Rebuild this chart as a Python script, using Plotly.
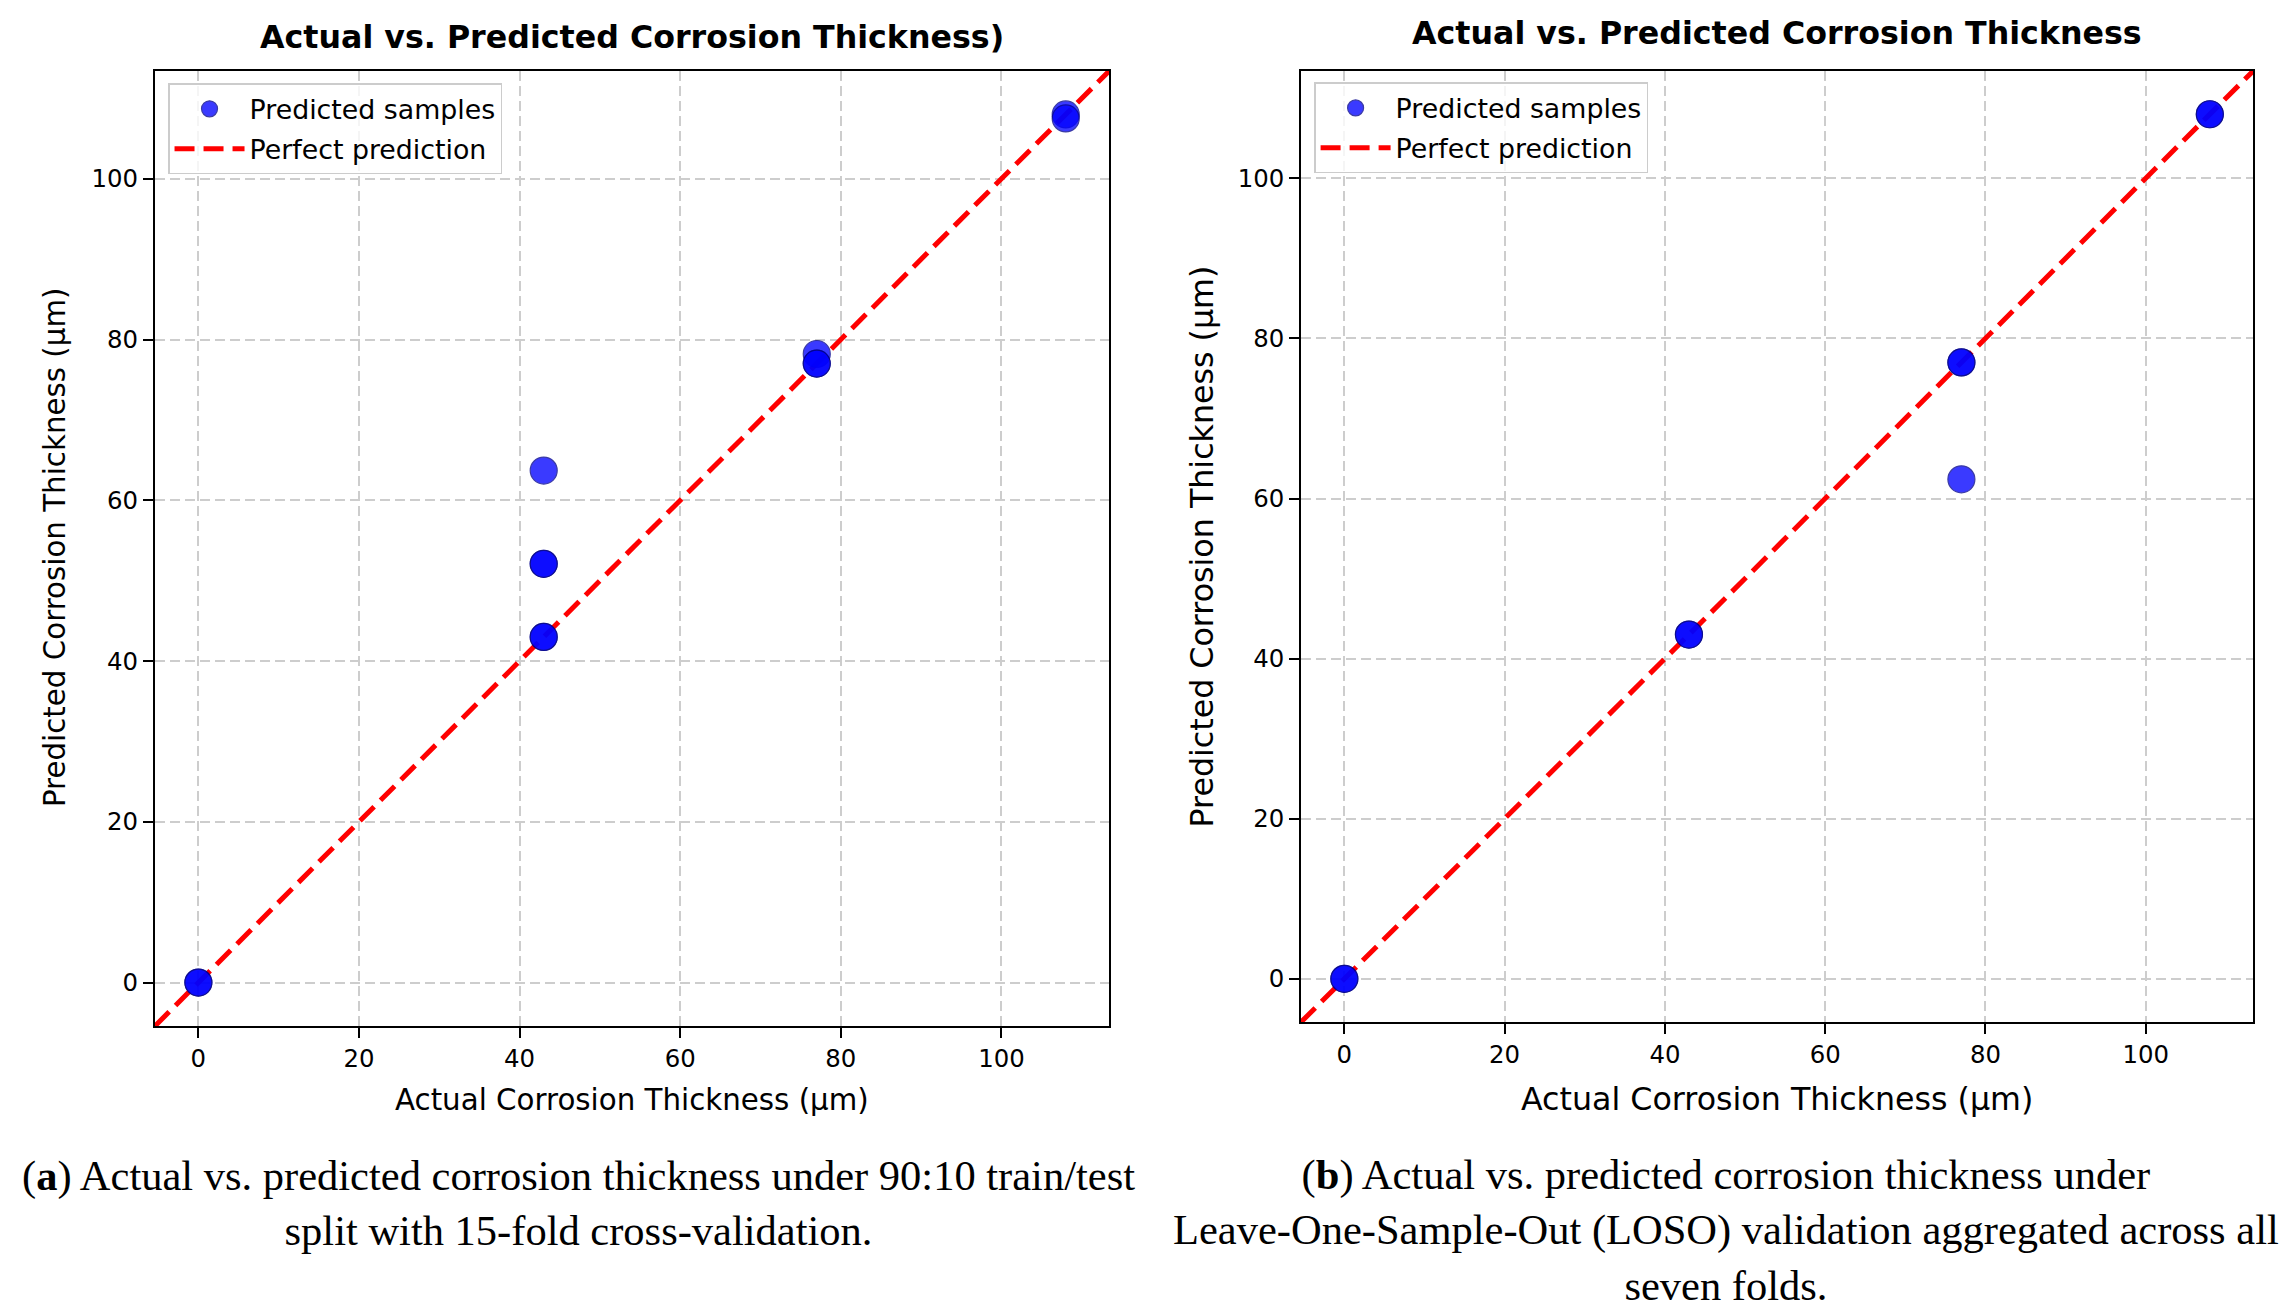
import plotly.graph_objects as go

# 90:10 split with 15-fold CV (left panel)
actual_cv = [0, 0, 43, 43, 43, 43, 43, 77, 77, 77, 108, 108]
predicted_cv = [0, 0, 43, 43, 52.1, 52.1, 63.7, 78.2, 77.0, 77.0, 108, 107.5]

# Leave-One-Sample-Out validation (right panel)
actual_loso = [0, 0, 43, 43, 77, 77, 77, 108, 108]
predicted_loso = [0, 0, 43, 43, 77, 77, 62.4, 108, 108]

tick_values = [0, 20, 40, 60, 80, 100]

title_a = "Actual vs. Predicted Corrosion Thickness)"
title_b = "Actual vs. Predicted Corrosion Thickness"
x_label = "Actual Corrosion Thickness (µm)"
y_label = "Predicted Corrosion Thickness (µm)"
caption_a = ("(<b>a</b>) Actual vs. predicted corrosion thickness under 90:10 train/test"
             "<br>split with 15-fold cross-validation.")
caption_b = ("(<b>b</b>) Actual vs. predicted corrosion thickness under"
             "<br>Leave-One-Sample-Out (LOSO) validation aggregated across all"
             "<br>seven folds.")

SANS = "DejaVu Sans"
SERIF = "Liberation Serif"


def axis_limits(*series):
    # same 5% padding matplotlib adds around the data
    vals = [v for s in series for v in s]
    lo, hi = min(vals), max(vals)
    pad = 0.05 * (hi - lo)
    return lo - pad, hi + pad


lo_cv, hi_cv = axis_limits(actual_cv, predicted_cv)
lo_loso, hi_loso = axis_limits(actual_loso, predicted_loso)

fig = go.Figure()


def add_panel(fig, actual, predicted, lo, hi, xa, ya, legend):
    fig.add_trace(go.Scatter(
        x=[lo, hi], y=[lo, hi], mode="lines", name="Perfect prediction",
        line=dict(color="red", width=5, dash="20px,9px"),
        xaxis=xa, yaxis=ya, legend=legend, legendrank=2, legendgroup="line",
    ))
    fig.add_trace(go.Scatter(
        x=actual, y=predicted, mode="markers", name="Predicted samples",
        marker=dict(color="blue", size=27, opacity=0.77,
                    line=dict(color="darkblue", width=1.2)),
        xaxis=xa, yaxis=ya, legend=legend, legendrank=1, legendgroup="pts",
    ))


add_panel(fig, actual_cv, predicted_cv, lo_cv, hi_cv, "x", "y", "legend")
add_panel(fig, actual_loso, predicted_loso, lo_loso, hi_loso, "x2", "y2", "legend2")

axis_style = dict(
    showline=True, linecolor="black", linewidth=2, mirror=True,
    ticks="outside", ticklen=10, tickwidth=2, tickcolor="black",
    tickvals=tick_values, tickfont=dict(family=SANS, size=24.4, color="black"),
    showgrid=True, gridcolor="#cdcdcd", gridwidth=1.5, griddash="10px,5px",
    zeroline=False,
)

legend_style = dict(
    bgcolor="rgba(255,255,255,0.8)", bordercolor="#cccccc", borderwidth=1.5,
    font=dict(family=SANS, size=26.8, color="black"),
    xanchor="left", yanchor="top", itemwidth=70,
    traceorder="grouped", tracegroupgap=2,
)

fig.update_layout(
    width=2283, height=1313,
    margin=dict(l=0, r=0, t=0, b=0),
    paper_bgcolor="white", plot_bgcolor="white",
    showlegend=True,
    xaxis=dict(domain=[0.0679, 0.4858], range=[lo_cv, hi_cv], anchor="y", **axis_style),
    yaxis=dict(domain=[0.2186, 0.9459], range=[lo_cv, hi_cv], anchor="x", **axis_style),
    xaxis2=dict(domain=[0.5699, 0.9869], range=[lo_loso, hi_loso], anchor="y2", **axis_style),
    yaxis2=dict(domain=[0.2216, 0.9459], range=[lo_loso, hi_loso], anchor="x2", **axis_style),
    legend=dict(x=0.0736, y=0.9365, **legend_style),
    legend2=dict(x=0.5756, y=0.9372, **legend_style),
)

annotations = [
    # panel titles
    dict(x=0.2768, y=0.9718, text=f"<b>{title_a}</b>", size=31.7),
    dict(x=0.7783, y=0.9749, text=f"<b>{title_b}</b>", size=31.7),
    # axis titles
    dict(x=0.2768, y=0.1622, text=x_label, size=29.3),
    dict(x=0.7783, y=0.163, text=x_label, size=31.7),
    dict(x=0.0241, y=0.5826, text=y_label, size=29.3, angle=-90),
    dict(x=0.5265, y=0.5838, text=y_label, size=31.7, angle=-90),
]
for a in annotations:
    fig.add_annotation(
        x=a["x"], y=a["y"], xref="paper", yref="paper", text=a["text"],
        showarrow=False, xanchor="center", yanchor="middle",
        textangle=a.get("angle", 0),
        font=dict(family=SANS, size=a["size"], color="black"),
    )

# figure captions under each panel
fig.add_annotation(x=0.2532, y=0.0838, xref="paper", yref="paper", text=caption_a,
                   showarrow=False, xanchor="center", yanchor="middle", align="center",
                   font=dict(family=SERIF, size=42.5, color="black"))
fig.add_annotation(x=0.7562, y=0.0632, xref="paper", yref="paper", text=caption_b,
                   showarrow=False, xanchor="center", yanchor="middle", align="center",
                   font=dict(family=SERIF, size=42.5, color="black"))

# drop the default 8px page margin so the figure sits flush in the window
fig.write_html("out.html", config={"displayModeBar": False},
               post_script="document.body.style.margin='0';")
